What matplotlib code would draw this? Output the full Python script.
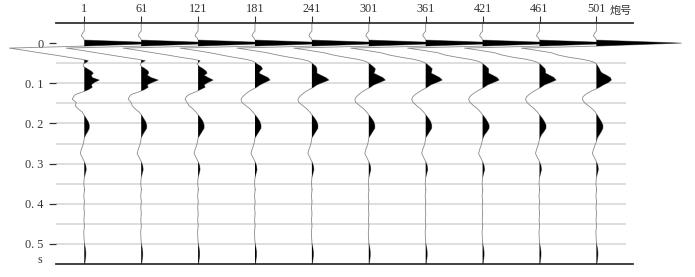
import matplotlib
matplotlib.use("Agg")
import matplotlib.pyplot as plt
import numpy as np

# ---------------- data ----------------
shots = [1, 61, 121, 181, 241, 301, 361, 421, 461, 501]
ytick_vals = [0, 0.1, 0.2, 0.3, 0.4, 0.5]
ytick_labels = ["0", "0. 1", "0. 2", "0. 3", "0. 4", "0. 5"]
grid_times = [0.05, 0.1, 0.15, 0.2, 0.25, 0.3, 0.35, 0.4, 0.45, 0.5]

# shared direct-wave part (time in s, amplitude in px-like units)
head_t = [-0.05, -0.03, -0.024, -0.018, -0.013, -0.0075, 0.0, 0.0075, 0.0125, 0.018, 0.024]
head_amp = [0, 0, -2, -3, -1, 0, 85, 0, -75, -60, -45]

# per-trace reflection window
mid_t = [0.03, 0.036, 0.04, 0.044, 0.048, 0.052, 0.058, 0.064, 0.07, 0.075, 0.08, 0.086,
         0.092, 0.098, 0.104, 0.11, 0.116, 0.122, 0.128, 0.134, 0.14, 0.148, 0.156, 0.164,
         0.172, 0.18, 0.188, 0.196, 0.204, 0.212, 0.22, 0.228, 0.236, 0.245]
mid_amp_1 = [-29, -14, -3, 4, 2, -1, -1, 3, 7, 9, 7, 8, 15, 10, 7, 8, 4, -2, -9, -11, -12, -8, -9, -6, -2, 0, 2, 4, 5, 5, 3.5, 1.5, 0, -0.5]
mid_amp_61 = [-30, -15, -4, 4, 1, -1, 0, 4, 7, 7.5, 6, 10, 17, 11, 6, 7, 3, -3, -10, -12, -13, -10, -9, -6, -2, 0.5, 2.5, 4.5, 5.5, 5.5, 3.5, 1.5, 0, -0.5]
mid_amp_121 = [-30, -16, -5, 2, 0.5, -1, 1, 5, 8, 9, 6, 10, 15, 10, 6, 7, 2, -3, -9, -12, -13, -11, -9, -5, -2, 0.5, 3, 5, 6, 6, 4, 2, 0, -0.5]
mid_amp_181 = [-33, -20, -10, -3, 0, 2, 6, 7.5, 5, 4, 8, 13, 15, 10, 5, 1.5, -3, -7, -10, -12.5, -14, -13, -9, -5, -2, 0.5, 3, 5, 6, 6, 4, 2, 0, -0.5]
mid_amp_241 = [-34, -21, -11, -4, -1, 1, 4, 5, 5, 5, 9, 14, 17, 11, 5, 1.5, -3, -7, -10, -12.5, -14, -13, -9, -5, -2, 0.5, 3, 5, 6, 6, 4, 2, 0, -0.5]
mid_amp_301 = [-35, -22, -12, -5, -1, 1, 4, 6.5, 6, 5, 9, 14, 16.5, 11, 5, 1.5, -3, -7, -10, -12.5, -14, -13, -9, -5, -2, 0.5, 3, 5, 6, 6, 4, 2, 0, -0.5]
mid_amp_361 = [-36, -23, -13, -6, -1.5, 1, 4, 6.5, 6, 5.5, 9.5, 14, 16.5, 11, 5, 1.5, -3, -7, -10.5, -13, -14, -12.5, -9, -5, -2, 0.5, 3, 5, 6, 6, 4, 2, 0, -0.5]
mid_amp_421 = [-37, -24, -14, -6, -2, 0.5, 3.5, 6, 6, 6, 10, 14.5, 16.5, 11, 5, 1.5, -3, -7, -10.5, -13, -14, -12.5, -9, -5, -2, 0.5, 3, 5, 6.5, 6.5, 4.5, 2, 0.5, -0.5]
mid_amp_461 = [-37, -25, -14, -7, -2, 0.5, 3, 5.5, 6, 6, 10, 14.5, 16.5, 11, 5, 1.5, -3, -7, -10.5, -13, -14, -12.5, -9, -5, -2, 0.5, 3, 5, 6.5, 6.5, 4.5, 2, 0.5, -0.5]
mid_amp_501 = [-38, -26, -15, -7, -2, 0, 1.5, 3, 4, 6, 10, 14, 15, 12, 7, 3, -2, -7, -11, -13.5, -14, -12, -8, -4, -1, 1, 3, 5, 6.5, 6.5, 5, 3, 1, 0]

# shared deeper part
tail_t = [0.255, 0.265, 0.275, 0.285, 0.295, 0.305, 0.315, 0.325, 0.335, 0.35, 0.365, 0.38,
          0.395, 0.41, 0.425, 0.44, 0.455, 0.47, 0.485, 0.5, 0.51, 0.52, 0.53, 0.54, 0.55]
tail_amp = [-1.5, -3, -4, -2, 0, 1.5, 2, 1, 0, -0.5, 0.2, -0.5, 0.1, -0.4, 0.1, -0.4, 0.1,
            -0.5, -0.3, 0.2, 1, 1.5, 1.5, 1, 0.5]

mid_amps = [mid_amp_1, mid_amp_61, mid_amp_121, mid_amp_181, mid_amp_241,
            mid_amp_301, mid_amp_361, mid_amp_421, mid_amp_461, mid_amp_501]

# ---------------- style ----------------
W, H = 695, 277
GAIN = 1 / 56.9          # amplitude px -> trace spacing
num_font = "Liberation Serif"

fig = plt.figure(figsize=(W / 100, H / 100), dpi=100)
ax_left, ax_right, ax_top, ax_bot = 56, 633, 23, 264
ax = fig.add_axes([ax_left / W, (H - ax_bot) / H, (ax_right - ax_left) / W, (ax_bot - ax_top) / H])

x0 = (ax_left - 84.3) / 56.9
x1 = (ax_right - 84.3) / 56.9
ax.set_xlim(x0, x1)
ax.set_ylim(0.55, -0.05)

grid_x1 = (626 - 84.3) / 56.9
ax.hlines(grid_times, x0, grid_x1, colors="#d4d4d4", lw=1.1, zorder=1)

t_all = np.array(head_t + mid_t + tail_t)
for i, mid in enumerate(mid_amps):
    amp = np.array(head_amp + mid + tail_amp) * GAIN
    xs = i + amp
    ax.plot(xs, t_all, color="#8a8a8a", lw=0.6, zorder=2, clip_on=False)
    ax.fill_betweenx(t_all, i, xs, where=xs > i, interpolate=True,
                     color="black", lw=0, zorder=3, clip_on=False)

for s in ["left", "right"]:
    ax.spines[s].set_visible(False)
for s in ["top", "bottom"]:
    ax.spines[s].set_color("#333333")
    ax.spines[s].set_linewidth(1.3)

ax.xaxis.tick_top()
ax.set_xticks(range(len(shots)))
ax.set_xticklabels([str(s) for s in shots], fontfamily=num_font, fontsize=8.8, color="#333333")
ax.tick_params(axis="x", which="both", top=True, bottom=False, length=5, width=0.8,
               color="#333333", pad=0.5)
ax.set_yticks(ytick_vals)
ax.set_yticklabels(ytick_labels, fontfamily=num_font, fontsize=8.8, color="#333333")
ax.tick_params(axis="y", length=5, width=0.9, color="#333333", pad=4)

fig.text(621 / W, 1 - 11 / H, "炮号", fontfamily=["Noto Sans CJK SC", "DejaVu Sans"],
         fontsize=8, ha="center", va="center", color="#333333")
fig.text(40 / W, 1 - 260 / H, "s", fontfamily=num_font, fontsize=8.8,
         ha="center", va="center", color="#333333")

fig.savefig("out.png", dpi=100)
